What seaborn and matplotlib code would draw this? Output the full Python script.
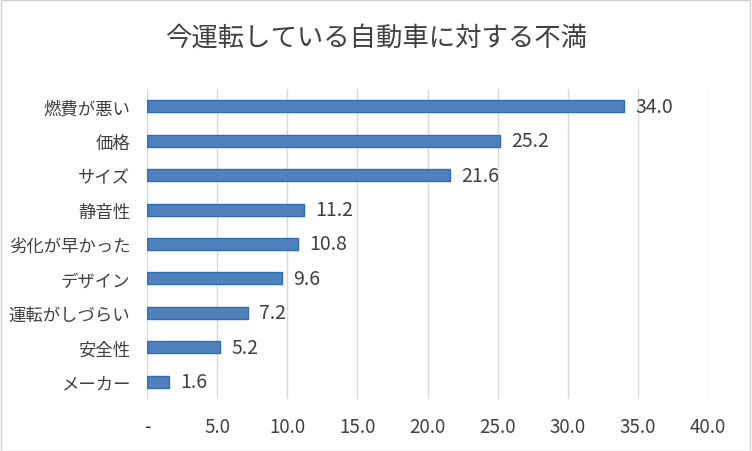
import numpy as np
import pandas as pd
import seaborn as sns
import matplotlib.pyplot as plt
from matplotlib.patches import Rectangle

# ── Data ──────────────────────────────────────────────────────────────────────
categories = ["燃費が悪い", "価格", "サイズ", "静音性", "劣化が早かった",
              "デザイン", "運転がしづらい", "安全性", "メーカー"]
values = [34.0, 25.2, 21.6, 11.2, 10.8, 9.6, 7.2, 5.2, 1.6]
xticks = [0, 5, 10, 15, 20, 25, 30, 35, 40]
xtick_labels = ["-", "5.0", "10.0", "15.0", "20.0", "25.0", "30.0", "35.0", "40.0"]
title = "今運転している自動車に対する不満"

df = pd.DataFrame({"item": categories, "pct": values})

sns.set_theme(style="white")
plt.rcParams["font.family"] = ["Noto Sans CJK JP", "DejaVu Sans"]
text_col = "#404040"

fig = plt.figure(figsize=(7.52, 4.52), dpi=100)
ax = fig.add_axes([0.1955, 0.115, 0.746, 0.686])

sns.barplot(data=df, x="pct", y="item", orient="h", color="#4F81BD",
            saturation=1, width=0.35, edgecolor="#2E6DB4", linewidth=1.0, ax=ax)

for i, v in enumerate(values):
    ax.text(v + 0.8, i, f"{v:.1f}", va="center", ha="left",
            fontsize=14, color=text_col)

ax.set_xlim(0, 40)
ax.set_ylim(len(categories) - 0.5, -0.5)
ax.set_xticks(xticks)
ax.set_xticklabels(xtick_labels, fontsize=13.5, color=text_col)
ax.tick_params(axis="y", labelsize=12.5, labelcolor=text_col, length=0, pad=12)
ax.tick_params(axis="x", length=0, pad=12)
ax.set_xlabel("")
ax.set_ylabel("")
ax.xaxis.grid(True, color="#D9D9D9", linewidth=1)
ax.set_axisbelow(True)
for s in ax.spines.values():
    s.set_visible(False)

fig.suptitle(title, fontsize=19, color=text_col, y=0.945)
fig.patches.append(Rectangle((0.001, 0.001), 0.997, 0.997, transform=fig.transFigure,
                             fill=False, edgecolor="#D0D0D0", linewidth=1))

fig.savefig("out.png", dpi=100)
